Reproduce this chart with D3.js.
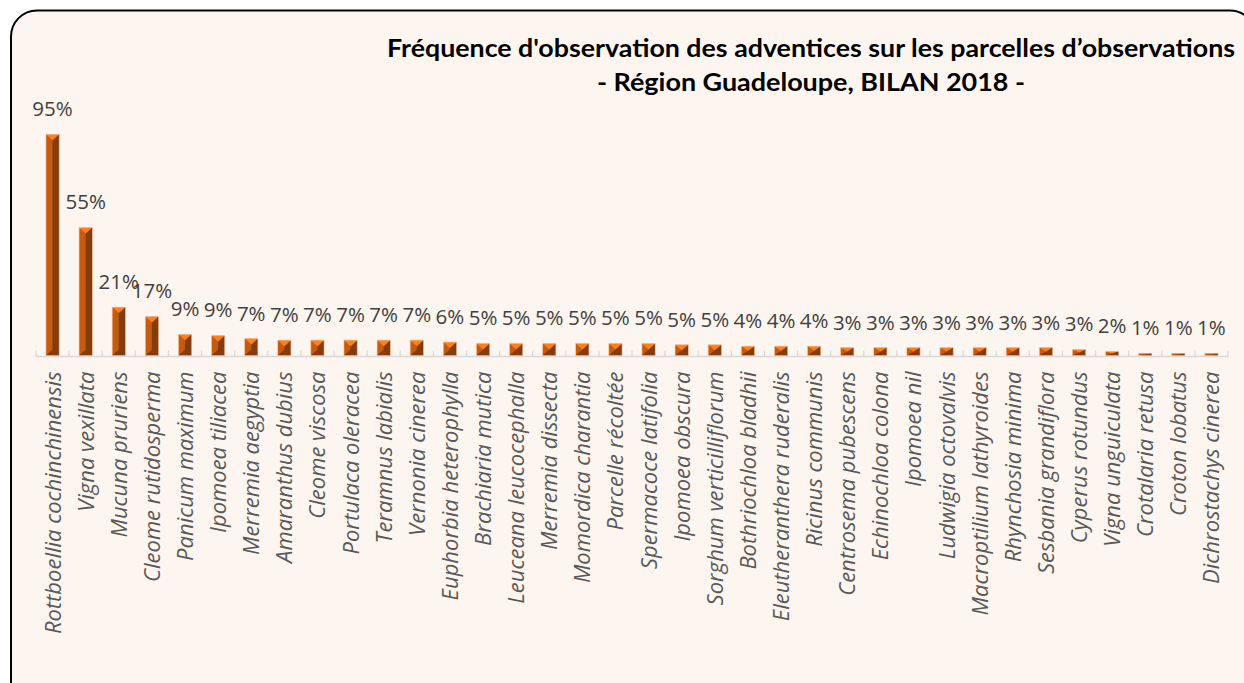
<!DOCTYPE html>
<html>
<head>
<meta charset="utf-8">
<script src="https://cdn.jsdelivr.net/npm/d3@7"></script>
<style>
  body { margin: 0; background: #ffffff; }
  svg { display: block; }
</style>
</head>
<body>
<svg id="chart"></svg>
<script>
const species = ["Rottboellia cochinchinensis", "Vigna vexillata", "Mucuna pruriens", "Cleome rutidosperma",
  "Panicum maximum", "Ipomoea tiliacea", "Merremia aegyptia", "Amaranthus dubius", "Cleome viscosa",
  "Portulaca oleracea", "Teramnus labialis", "Vernonia cinerea", "Euphorbia heterophylla", "Brachiaria mutica",
  "Leuceana leucocephalla", "Merremia dissecta", "Momordica charantia", "Parcelle récoltée", "Spermacoce latifolia",
  "Ipomoea obscura", "Sorghum verticilliflorum", "Bothriochloa bladhii", "Eleutheranthera ruderalis",
  "Ricinus communis", "Centrosema pubescens", "Echinochloa colona", "Ipomoea nil", "Ludwigia octovalvis",
  "Macroptilium lathyroides", "Rhynchosia minima", "Sesbania grandiflora", "Cyperus rotundus",
  "Vigna unguiculata", "Crotalaria retusa", "Croton lobatus", "Dichrostachys cinerea"];
const frequency = [95, 55, 20.8, 16.8, 9.1, 8.6, 7.3, 6.6, 6.6, 6.6, 6.6, 6.6, 5.8, 5.2, 5.2, 5.2, 5.2, 5.2, 5.2,
  4.6, 4.6, 4.0, 4.0, 4.0, 3.4, 3.4, 3.4, 3.4, 3.4, 3.4, 3.4, 2.6, 1.8, 1.0, 1.0, 1.0];
const titleLines = ["Fréquence d'observation des adventices sur les parcelles d’observations",
  "- Région Guadeloupe, BILAN 2018 -"];

const W = 1244, H = 683;
const svg = d3.select("#chart").attr("width", W).attr("height", H);

// cadre arrondi
svg.append("rect")
  .attr("x", 11).attr("y", 10.5)
  .attr("width", 1245).attr("height", 700)
  .attr("rx", 26).attr("ry", 26)
  .attr("fill", "#fdf5ef")
  .attr("stroke", "#000").attr("stroke-width", 2);

const x = d3.scaleBand()
  .domain(species)
  .range([36, 1228])
  .paddingInner(0.6)
  .paddingOuter(0.3);
const y = d3.scaleLinear()
  .domain([0, 100])
  .range([355.5, 122.7]);

const step = x.step();
const base = y(0);

// axe
svg.append("line")
  .attr("x1", 36).attr("x2", 1228)
  .attr("y1", base + 1).attr("y2", base + 1)
  .attr("stroke", "#d9d9d9").attr("stroke-width", 1.5);
svg.append("g").selectAll("line")
  .data(d3.range(species.length + 1))
  .join("line")
  .attr("x1", i => 36 + i * step).attr("x2", i => 36 + i * step)
  .attr("y1", base - 5).attr("y2", base + 1)
  .attr("stroke", "#d9d9d9").attr("stroke-width", 1.3);

// barres avec biseau
const bw = x.bandwidth();
const bars = svg.append("g").selectAll("g")
  .data(species.map((s, i) => ({s, v: frequency[i]})))
  .join("g");

bars.each(function (d) {
  const g = d3.select(this);
  const x0 = x(d.s), x1 = x0 + bw, mx = x0 + bw / 2;
  const top = y(d.v), bot = base;
  const h = bot - top;
  const b = Math.min(6, h / 2);
  g.append("rect")
    .attr("x", x0).attr("y", top).attr("width", bw).attr("height", h)
    .attr("fill", "#c55a11");
  g.append("path")
    .attr("d", `M${mx},${top + b}L${x1},${top}L${x1},${bot}L${x0},${bot}L${mx},${bot - b}Z`)
    .attr("fill", "#843c0c");
  g.append("path")
    .attr("d", `M${x0},${top}L${x1},${top}L${mx},${top + b}Z`)
    .attr("fill", "#ff7f1a");
  g.append("rect")
    .attr("x", x0).attr("y", top).attr("width", bw).attr("height", h)
    .attr("fill", "none").attr("stroke", "#f8cbad").attr("stroke-width", 0.6);
});

// étiquettes de valeur
svg.append("g").selectAll("text")
  .data(species.map((s, i) => ({s, v: frequency[i]})))
  .join("text")
  .attr("x", d => x(d.s) + bw / 2)
  .attr("y", d => y(d.v) - 18)
  .attr("text-anchor", "middle")
  .style("font-family", "'Open Sans', sans-serif")
  .style("font-size", "20.5px")
  .attr("fill", "#404040")
  .text(d => Math.round(d.v) + "%");

// noms des espèces
svg.append("g").selectAll("text")
  .data(species)
  .join("text")
  .attr("transform", d => `translate(${x(d) + bw / 2 + 8},${base + 16}) rotate(-90)`)
  .attr("text-anchor", "end")
  .style("font-family", "'Open Sans', sans-serif")
  .style("font-style", "italic")
  .style("font-size", "22px")
  .attr("fill", "#595959")
  .text(d => d);

// titre
const tx = 811;
const t1 = svg.append("text")
  .attr("x", tx).attr("y", 57)
  .attr("text-anchor", "middle")
  .style("font-family", "Lato, sans-serif")
  .style("font-weight", "bold")
  .style("font-size", "25px")
  .attr("fill", "#000")
  .text(titleLines[0]);
const t2 = svg.append("text")
  .attr("x", tx).attr("y", 91)
  .attr("text-anchor", "middle")
  .style("font-family", "Lato, sans-serif")
  .style("font-weight", "bold")
  .style("font-size", "25px")
  .attr("fill", "#000")
  .text(titleLines[1]);
t1.attr("textLength", 848).attr("lengthAdjust", "spacingAndGlyphs");
t2.attr("textLength", 428).attr("lengthAdjust", "spacingAndGlyphs");
</script>
</body>
</html>
